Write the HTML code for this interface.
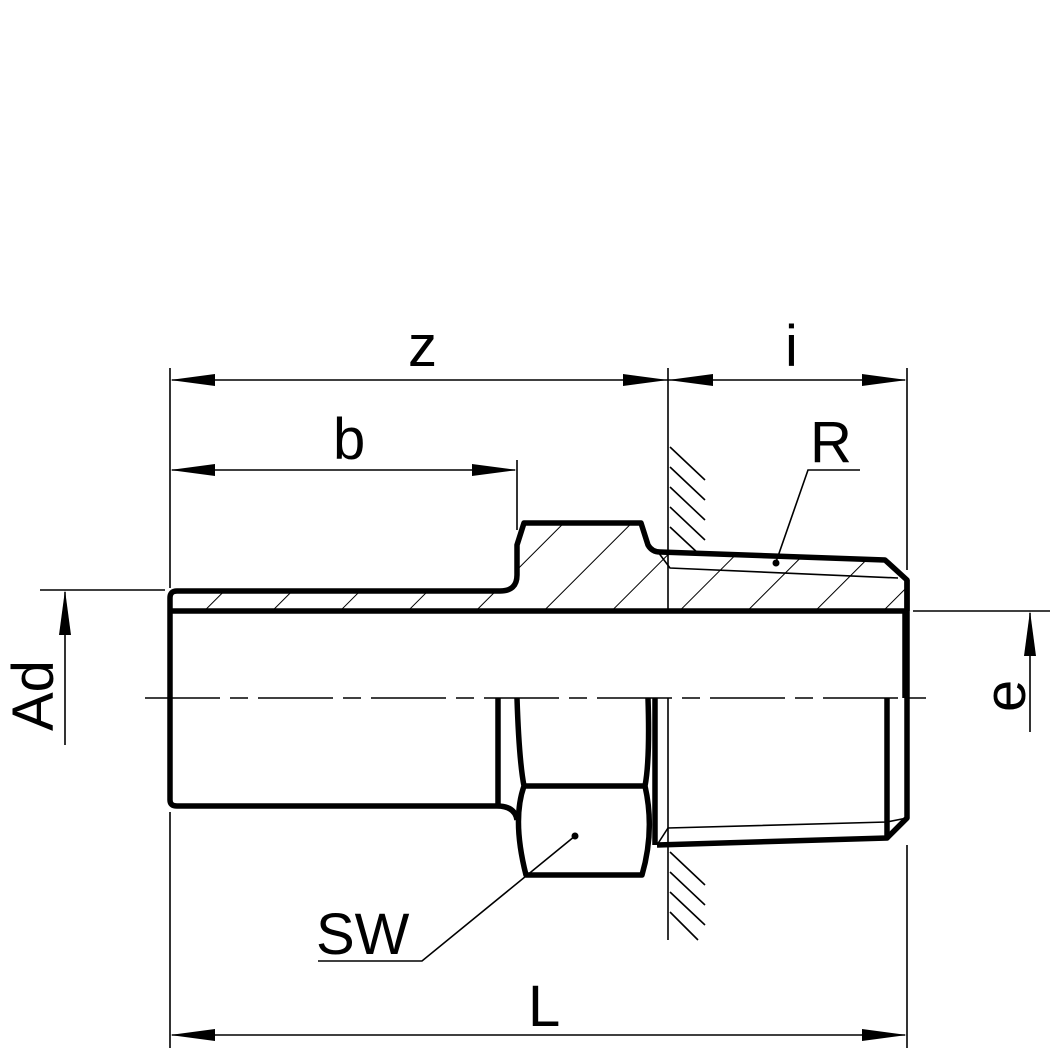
<!DOCTYPE html>
<html><head><style>html,body{margin:0;padding:0;background:#fff}svg{display:block}</style></head>
<body>
<svg width="1054" height="1054" viewBox="0 0 1054 1054" xmlns="http://www.w3.org/2000/svg">
<defs>
<pattern id="h" width="48" height="48" patternUnits="userSpaceOnUse" patternTransform="rotate(45)">
<line x1="0" y1="0" x2="0" y2="48" stroke="#000" stroke-width="2"/>
</pattern>
<clipPath id="c"><polygon points="172,592 500,592 517,575 517,545 525,523 640,523 648,545 658,552 885,560 907,580 907,611 172,611"/></clipPath>
</defs>
<g font-family="Liberation Sans, sans-serif" font-size="58" fill="#000">
<text x="408" y="366">z</text>
<text x="785" y="366">i</text>
<text x="333" y="459">b</text>
<text x="810" y="462">R</text>
<text x="316" y="954">SW</text>
<text x="528" y="1026">L</text>
<text transform="translate(53,731) rotate(-90)">Ad</text>
<text transform="translate(1025,712) rotate(-90)">e</text>
</g>
<rect x="160" y="510" width="760" height="110" fill="url(#h)" clip-path="url(#c)"/>
<g stroke="#000" fill="none" stroke-width="1.6">
<line x1="170" y1="368" x2="170" y2="588"/>
<line x1="170" y1="812" x2="170" y2="1048"/>
<line x1="907" y1="368" x2="907" y2="570"/>
<line x1="907" y1="845" x2="907" y2="1048"/>
<line x1="517" y1="460" x2="517" y2="530"/>
<line x1="668" y1="368" x2="668" y2="611"/>
<line x1="668" y1="698" x2="668" y2="940"/>
<line x1="40" y1="590" x2="165" y2="590"/>
<line x1="913" y1="611" x2="1050" y2="611"/>
<line x1="172" y1="380" x2="905" y2="380"/>
<line x1="172" y1="470" x2="515" y2="470"/>
<line x1="172" y1="1035" x2="905" y2="1035"/>
<line x1="65" y1="592" x2="65" y2="745"/>
<line x1="1030" y1="613" x2="1030" y2="732"/>
<line x1="145" y1="698" x2="935" y2="698" stroke-dasharray="75,10,18,10"/>
<path d="M670,447 L705,480 M670,467 L705,500 M670,487 L705,520 M670,507 L705,540 M670,527 L700,555 M670,852 L705,885 M670,872 L705,905 M670,892 L705,925 M670,912 L698,940"/>
<path d="M658,552 L670,568 L898,578"/>
<path d="M657,845 L668,828 L887,822 L907,818"/>
<path d="M860,470 L808,470 L776,562"/>
<path d="M318,961 L422,961 L575,836"/>
</g>
<circle cx="776" cy="563" r="3.5"/>
<circle cx="575" cy="836" r="3.5"/>
<g fill="#000">
<polygon points="170,380 215,374 215,386"/>
<polygon points="668,380 623,374 623,386"/>
<polygon points="668,380 713,374 713,386"/>
<polygon points="907,380 862,374 862,386"/>
<polygon points="170,470 215,464 215,476"/>
<polygon points="517,470 472,464 472,476"/>
<polygon points="170,1035 215,1029 215,1041"/>
<polygon points="907,1035 862,1029 862,1041"/>
<polygon points="65,590 59,635 71,635"/>
<polygon points="1030,611 1024,656 1036,656"/>
</g>
<g stroke="#000" fill="none" stroke-width="5.5" stroke-linejoin="round">
<path d="M170,598 Q170,591 177,591 L500,591 Q517,591 517,575 L517,545 L524,523 L641,523 L648,545 Q652,552 660,552 L885,560 L907,580 L907,611"/>
<line x1="172" y1="611" x2="907" y2="611"/>
<path d="M170,598 L170,800 Q170,806 177,806 L497,806"/>
<line x1="905" y1="611" x2="905" y2="698"/>
<path d="M907,580 L907,818 L887,838 L657,845"/>
<line x1="887" y1="698" x2="887" y2="838"/>
<line x1="498" y1="698" x2="498" y2="806"/>
<path d="M497,806 Q515,806 517,820"/>
<path d="M517,698 Q519,760 524,786 Q512,820 526,875 L642,875 Q655,830 645,786 Q650,760 648,698"/>
<line x1="524" y1="786" x2="645" y2="786"/>
<line x1="655" y1="698" x2="655" y2="845"/>
</g>
</svg>
</body></html>
